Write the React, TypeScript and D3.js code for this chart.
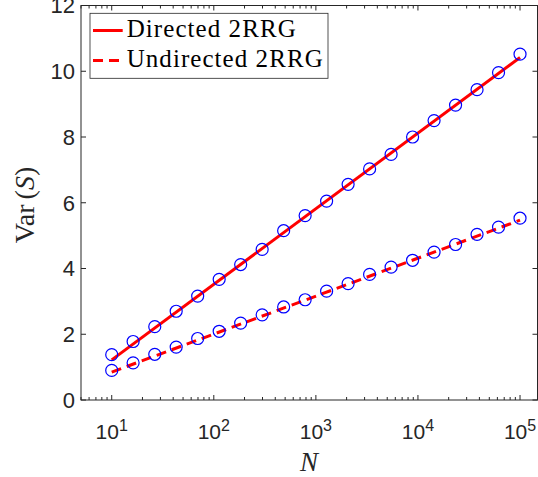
import React from 'react';
import * as d3 from 'd3';

// system sizes N (20 log-spaced points from 10 to 1e5)
const sizes = [10, 16.2, 26.4, 42.8, 69.5, 112.9, 183.3, 297.6, 483.3, 784.8,
  1274, 2069, 3360, 5456, 8859, 14384, 23357, 37927, 61585, 100000];

// measured Var(S)
const directedVar = [1.38, 1.78, 2.23, 2.70, 3.16, 3.67, 4.12, 4.58, 5.15, 5.61,
  6.05, 6.56, 7.03, 7.47, 8.00, 8.50, 8.97, 9.44, 9.96, 10.52];
const undirectedVar = [0.90, 1.13, 1.39, 1.61, 1.87, 2.09, 2.34, 2.59, 2.83, 3.05,
  3.31, 3.54, 3.82, 4.04, 4.25, 4.50, 4.73, 5.04, 5.26, 5.53];

// fitted lines (log-linear), end points
const fitN = [10, 100000];
const directedFit = [1.22, 10.42];
const undirectedFit = [0.85, 5.47];

const yTicks = [0, 2, 4, 6, 8, 10, 12];
const xDecades = [1, 2, 3, 4, 5];

const W = 538;
const H = 477;
const left = 81;
const right = 537.5;
const top = 5.5;
const bottom = 400;

const axisColor = '#262626';
const sans = 'Liberation Sans, Arial, Helvetica, sans-serif';
const serif = 'Liberation Serif, DejaVu Serif, Times New Roman, Times, serif';

export default function App() {
  const x = d3.scaleLog().domain([5, 1.5e5]).range([left, 538]);
  const y = d3.scaleLinear().domain([0, 12]).range([bottom, top]);

  const line = d3.line<[number, number]>()
    .x(d => x(d[0]))
    .y(d => y(d[1]));

  const minorTicks: number[] = [];
  for (let k = 0; k <= 5; k++) {
    for (let m = 2; m <= 9; m++) {
      const v = m * Math.pow(10, k);
      if (v >= 5 && v <= 1.5e5) minorTicks.push(v);
    }
  }

  const dirLine = line(fitN.map((n, i) => [n, directedFit[i]]) as [number, number][]);
  const undLine = line(fitN.map((n, i) => [n, undirectedFit[i]]) as [number, number][]);

  return (
    <div style={{ position: 'fixed', left: 0, top: 0 }}>
      <svg width={W} height={H} style={{ display: 'block', background: '#fff' }}>
        {/* fits */}
        <path d={dirLine || ''} fill="none" stroke="#ff0000" strokeWidth={3} />
        <path d={undLine || ''} fill="none" stroke="#ff0000" strokeWidth={3} strokeDasharray="10,6" />

        {/* data */}
        {sizes.map((n, i) => (
          <circle key={'d' + i} cx={x(n)} cy={y(directedVar[i])} r={6}
            fill="none" stroke="#0000ff" strokeWidth={1.2} />
        ))}
        {sizes.map((n, i) => (
          <circle key={'u' + i} cx={x(n)} cy={y(undirectedVar[i])} r={6}
            fill="none" stroke="#0000ff" strokeWidth={1.2} />
        ))}

        {/* box */}
        <rect x={left} y={top} width={right - left} height={bottom - top}
          fill="none" stroke={axisColor} strokeWidth={1} />

        {/* y ticks */}
        {yTicks.map(t => (
          <g key={'yt' + t}>
            <line x1={left} x2={left + 5} y1={y(t)} y2={y(t)} stroke={axisColor} />
            <line x1={right} x2={right - 5} y1={y(t)} y2={y(t)} stroke={axisColor} />
            <text x={75} y={y(t)} dy="0.36em" textAnchor="end"
              style={{ fontFamily: sans, fontSize: 22 }} fill={axisColor}>{t}</text>
          </g>
        ))}

        {/* x ticks */}
        {minorTicks.map(t => (
          <g key={'xm' + t}>
            <line x1={x(t)} x2={x(t)} y1={bottom} y2={bottom - 3} stroke={axisColor} />
            <line x1={x(t)} x2={x(t)} y1={top} y2={top + 3} stroke={axisColor} />
          </g>
        ))}
        {xDecades.map(k => {
          const v = Math.pow(10, k);
          return (
            <g key={'xt' + k}>
              <line x1={x(v)} x2={x(v)} y1={bottom} y2={bottom - 5} stroke={axisColor} />
              <line x1={x(v)} x2={x(v)} y1={top} y2={top + 5} stroke={axisColor} />
              <text x={x(v)} y={438.5} textAnchor="middle"
                style={{ fontFamily: sans, fontSize: 21 }} fill={axisColor}>
                <tspan>10</tspan>
                <tspan dy={-8} style={{ fontSize: 16 }}>{k}</tspan>
              </text>
            </g>
          );
        })}

        {/* axis labels */}
        <text x={309} y={471} textAnchor="middle"
          style={{ fontFamily: serif, fontSize: 27, fontStyle: 'italic' }} fill={axisColor}>N</text>
        <text transform="translate(34,205) rotate(-90)" textAnchor="middle"
          style={{ fontFamily: serif, fontSize: 28 }} fill={axisColor}>
          Var<tspan dx={5}>(</tspan><tspan style={{ fontStyle: 'italic' }}>S</tspan>)
        </text>

        {/* legend */}
        <rect x={90} y={13.3} width={238} height={65} fill="#fff" stroke={axisColor} strokeWidth={0.8} />
        <line x1={93} x2={122.7} y1={30.5} y2={30.5} stroke="#ff0000" strokeWidth={3} />
        <line x1={93} x2={122.7} y1={60.5} y2={60.5} stroke="#ff0000" strokeWidth={3} strokeDasharray="10,6" />
        <text x={126.7} y={36.5} style={{ fontFamily: serif, fontSize: 25 }} fill="#000"
          textLength={169} lengthAdjust="spacing">Directed 2RRG</text>
        <text x={126.7} y={67} style={{ fontFamily: serif, fontSize: 25 }} fill="#000"
          textLength={196} lengthAdjust="spacing">Undirected 2RRG</text>
      </svg>
    </div>
  );
}
